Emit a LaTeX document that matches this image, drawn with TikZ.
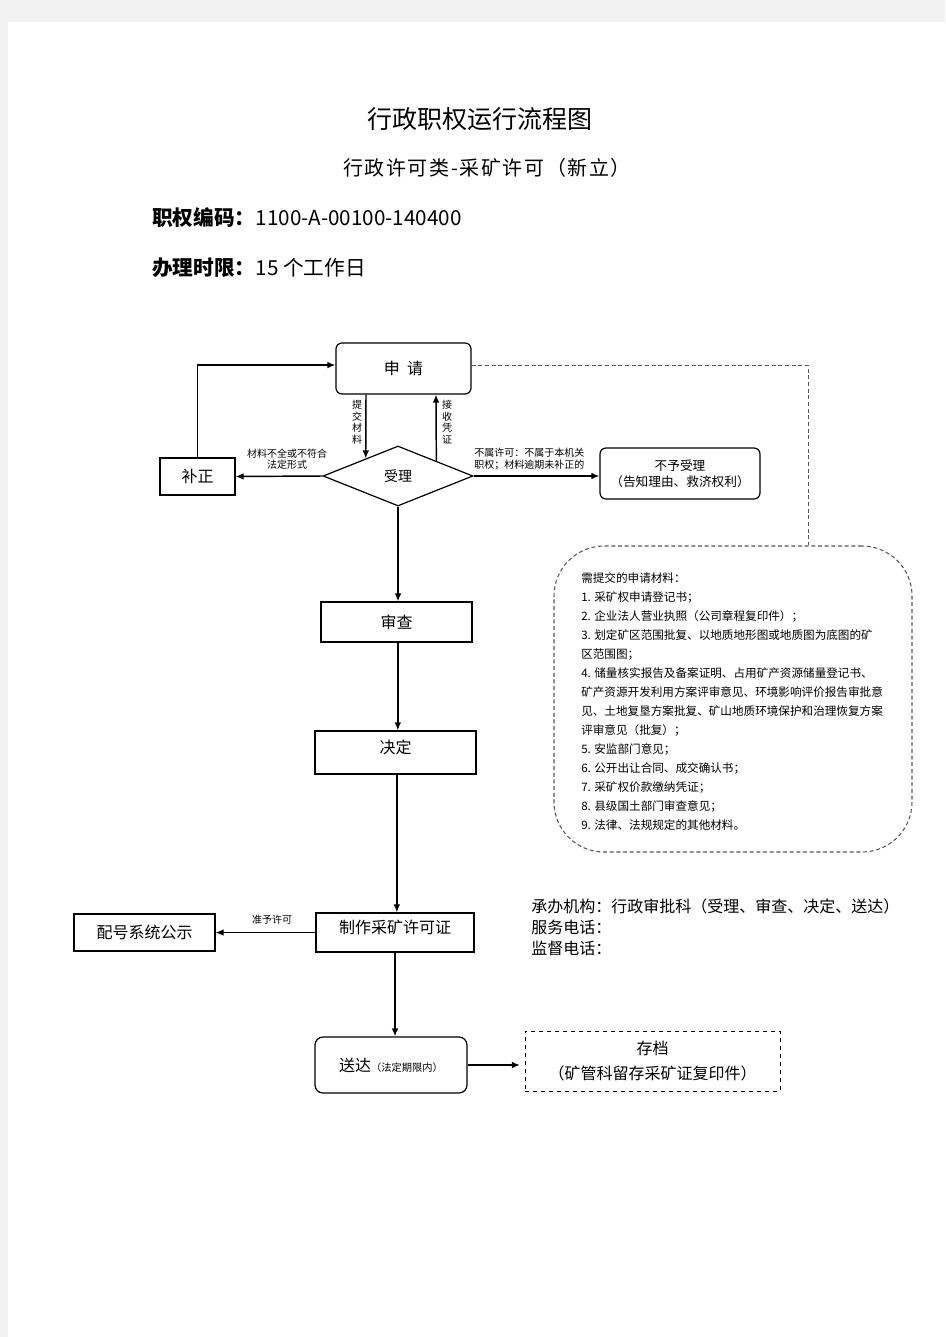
\documentclass[tikz,border=0pt]{standalone}
\usepackage{fontspec}
\setmainfont{Noto Sans CJK SC}
\usetikzlibrary{positioning,calc,shapes.geometric,arrows.meta}

\tikzset{
  box/.style={draw, line width=0.9pt, rectangle, inner sep=2pt, align=center,
    font=\fontsize{12}{14}\selectfont},
  rbox/.style={box, rounded corners=4.5pt},
  arr/.style={-{Latex[length=6pt,width=5pt]}, line width=1.1pt},
  note/.style={font=\fontsize{7.5}{8.6}\selectfont, align=center, inner sep=0pt},
  link/.style={gray!70!black, densely dashed, line width=0.7pt},
}

\begin{document}
\begin{tikzpicture}[x=0.75pt,y=-0.75pt]
    \useasboundingbox (0,0) rectangle (945,1337);
    \fill [black!5] (0,0) rectangle (945,1337);
    \fill [white] (8,22) rectangle (945,1337);
    % header
    \node (title) at (480,119) {\fontsize{18.75}{20}\selectfont 行政职权运行流程图};
    \node (sub) at (487,168) {\fontsize{15}{16}\selectfont\addfontfeature{LetterSpace=8}行政许可类-采矿许可（新立）};
    \node [anchor=west, inner sep=0pt] (code) at (152,218)
        {\fontsize{15.5}{16}\selectfont\textbf{职权编码：}1100-A-00100-140400};
    \node [anchor=west, inner sep=0pt] (limit) at (152,268)
        {\fontsize{15.5}{16}\selectfont\textbf{办理时限：}15 个工作日};
    % flow
    \node [rbox, minimum width=101.25pt, minimum height=38.25pt] (apply) at (403.5,368.5) {申\ \ 请};
    \node [draw, line width=0.9pt, diamond, aspect=2.5, inner sep=0pt, minimum width=112.5pt,
        minimum height=45pt, font=\fontsize{10.5}{12}\selectfont] (accept) at (398,476) {受理};
    \node [box, minimum width=56.25pt, minimum height=27.75pt] (fix) at (197.5,476.5) {补正};
    \node [rbox, minimum width=120pt, minimum height=38.25pt, font=\fontsize{9.5}{12}\selectfont]
        (reject) at (680,473.5) {不予受理\\（告知理由、救济权利）};
    \node [box, minimum width=113.25pt, minimum height=30pt] (review) at (396.5,622) {审查};
    \node [box, minimum width=120.75pt, minimum height=32.25pt, text depth=9pt] (decide) at (395.5,752.5) {决定};
    \node [box, minimum width=118.5pt, minimum height=29.25pt, text depth=9pt] (make) at (395,932.5) {制作采矿许可证};
    \node [box, minimum width=105.75pt, minimum height=27.75pt] (publish) at (144.5,932.5) {配号系统公示};
    \node [rbox, minimum width=114pt, minimum height=42pt, rounded corners=6pt] (deliver) at (391,1065)
        {送达{\fontsize{7.7}{9}\selectfont（法定期限内）}};
    \node [box, dashed, line width=0.6pt, minimum width=191.25pt, minimum height=45pt, font=\fontsize{12}{18.75}\selectfont]
        (archive) at (652.5,1061) {存档\\（矿管科留存采矿证复印件）};
    % material list
    \node [draw=gray!70!black, densely dashed, line width=0.8pt, rounded corners=37.5pt,
        minimum width=268.5pt, minimum height=229.5pt] (list) at (733,699) {};
    \node [anchor=north west, align=left, inner sep=0pt, font=\fontsize{8.7}{14.25}\selectfont]
        (listtxt) at (581,572) {需提交的申请材料：\\
        1. 采矿权申请登记书；\\
        2. 企业法人营业执照（公司章程复印件）；\\
        3. 划定矿区范围批复、以地质地形图或地质图为底图的矿\\
        区范围图；\\
        4. 储量核实报告及备案证明、占用矿产资源储量登记书、\\
        矿产资源开发利用方案评审意见、环境影响评价报告审批意\\
        见、土地复垦方案批复、矿山地质环境保护和治理恢复方案\\
        评审意见（批复）；\\
        5. 安监部门意见；\\
        6. 公开出让合同、成交确认书；\\
        7. 采矿权价款缴纳凭证；\\
        8. 县级国土部门审查意见；\\
        9. 法律、法规规定的其他材料。};
    \node [anchor=north west, align=left, inner sep=0pt, font=\fontsize{12}{15.75}\selectfont]
        (org) at (531,899) {承办机构：行政审批科（受理、审查、决定、送达）\\服务电话：\\监督电话：};
    % connectors
    \draw [arr] ($(apply.south)+(-37.5,0)$) -- ($(accept.north)!0.427!(accept.west)$);
    \draw [arr] ($(accept.north)!0.507!(accept.east)$) -- ($(apply.south)+(32.5,0)$);
    \draw [arr] (accept.west) -- (fix.east);
    \draw [arr] (fix.north) |- ([yshift=2.6pt]apply.west);
    \draw [arr] (accept.east) -- (accept.east -| reject.west);
    \draw [arr] (accept.south) -- (accept.south |- review.north);
    \draw [arr] ([xshift=1pt]review.south) -- ([xshift=1pt]review.south |- decide.north);
    \draw [arr] ([xshift=1pt]decide.south) -- ([xshift=1pt]decide.south |- make.north);
    \draw [arr] (make.west) -- (make.west -| publish.east);
    \draw [arr] (make.south) -- (make.south |- deliver.north);
    \draw [arr, shorten >=3.5pt] (deliver.east) -- (deliver.east -| archive.west);
    \draw [link] ([yshift=2.6pt]apply.east) -| ($(list.north)+(75,0)$);
    % labels
    \node [note] (submitlbl) at (357,422) {提\\交\\材\\料};
    \node [note] (receiptlbl) at (447,422) {接\\收\\凭\\证};
    \node [note] (fixlbl) at (287,459) {材料不全或不符合\\法定形式};
    \node [note, align=left, anchor=west] (rejectlbl) at (474,459) {不属许可：不属于本机关\\职权；材料逾期未补正的};
    \node [note] (grantlbl) at (272,920) {准予许可};
\end{tikzpicture}
\end{document}
